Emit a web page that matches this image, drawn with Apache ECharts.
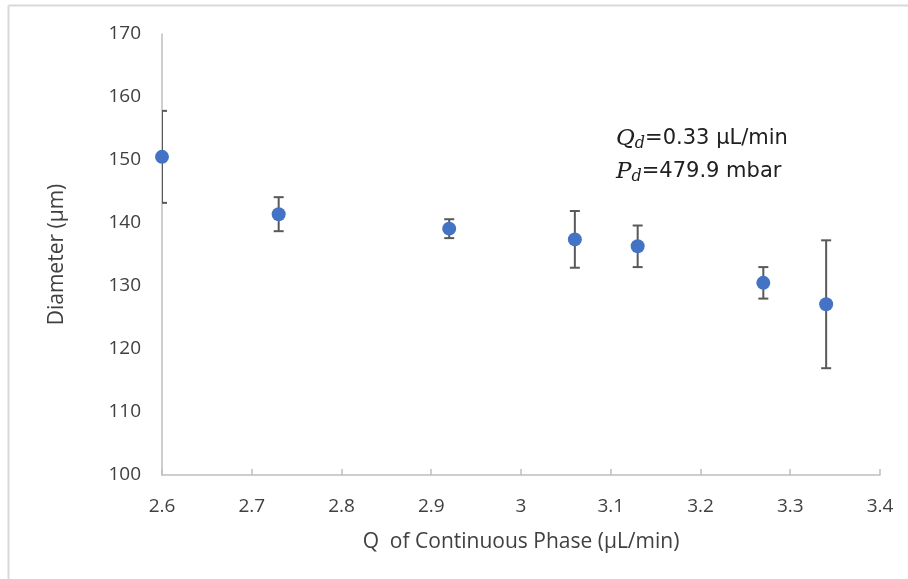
<!DOCTYPE html>
<html><head><meta charset="utf-8">
<script src="https://cdn.jsdelivr.net/npm/echarts@6/dist/echarts.min.js"></script>
<style>html,body{margin:0;padding:0;background:#fff}#c{width:908px;height:579px}</style>
</head><body><div id="c"></div>
<script>
var xValues = [2.6, 2.73, 2.92, 3.06, 3.13, 3.27, 3.34];
var diameters = [150.5, 141.4, 139.1, 137.4, 136.3, 130.5, 127.1];
var errors = [7.3, 2.7, 1.5, 4.5, 3.3, 2.5, 10.15];
var xTicks = [2.6, 2.7, 2.8, 2.9, 3, 3.1, 3.2, 3.3, 3.4];
var yTicks = [100, 110, 120, 130, 140, 150, 160, 170];

var FONT = '"Open Sans", "Liberation Sans", sans-serif';
var chart = echarts.init(document.getElementById('c'));
var errData = xValues.map(function(x, i){ return [x, diameters[i] - errors[i], diameters[i] + errors[i]]; });
var pts = xValues.map(function(x, i){ return [x, diameters[i]]; });

chart.setOption({
  animation: false,
  grid: { left: 162, right: 28, top: 34, bottom: 104, containLabel: false },
  xAxis: {
    type: 'value', min: xTicks[0], max: xTicks[xTicks.length-1], interval: 0.1,
    axisLine: { show: true, lineStyle: { color: '#bfbfbf', width: 1.5 } },
    axisTick: { show: true, inside: true, length: 6, lineStyle: { color: '#bfbfbf', width: 1.5 } },
    splitLine: { show: false },
    axisLabel: { color: '#404040', fontSize: 19, fontFamily: FONT, margin: 22,
      formatter: function(v){ return String(Math.round(v*10)/10); } },
    name: 'Q  of Continuous Phase (µL/min)', nameLocation: 'middle', nameGap: 57,
    nameTextStyle: { color: '#404040', fontSize: 21, fontFamily: FONT }
  },
  yAxis: {
    type: 'value', min: yTicks[0], max: yTicks[yTicks.length-1], interval: 10,
    axisLine: { show: true, lineStyle: { color: '#bfbfbf', width: 1.5 } },
    axisTick: { show: false },
    splitLine: { show: false },
    axisLabel: { color: '#404040', fontSize: 19, fontFamily: FONT, margin: 21 },
    name: 'Diameter (µm)', nameLocation: 'middle', nameGap: 94,
    nameTextStyle: { color: '#404040', fontSize: 21, fontFamily: FONT }
  },
  graphic: [
    { type: 'line', shape: { x1: 8.5, y1: 5.5, x2: 908, y2: 5.5 }, style: { stroke: '#d9d9d9', lineWidth: 2 } },
    { type: 'line', shape: { x1: 8.5, y1: 5.5, x2: 8.5, y2: 579 }, style: { stroke: '#d9d9d9', lineWidth: 2 } },
    { type: 'text', left: 616, top: 126, style: {
        rich: {
          v: { fontFamily: '"DejaVu Serif", serif', fontStyle: 'italic', fontSize: 23, fill: '#202020', lineHeight: 33 },
          s: { fontFamily: '"DejaVu Serif", serif', fontStyle: 'italic', fontSize: 16, fill: '#202020', padding: [10, 0, 0, 0], lineHeight: 33 },
          t: { fontFamily: '"DejaVu Sans", sans-serif', fontSize: 21, fill: '#202020', lineHeight: 33 }
        },
        text: '{v|Q}{s|d}{t|=0.33 µL/min}\n{v|P}{s|d}{t|=479.9 mbar}'
      } }
  ],
  series: [
    {
      type: 'custom', clip: true, z: 1,
      renderItem: function(params, api){
        var x = api.value(0);
        var lo = api.coord([x, api.value(1)]);
        var hi = api.coord([x, api.value(2)]);
        var w = 5;
        var st = { stroke: '#595959', lineWidth: 2 };
        return { type: 'group', children: [
          { type: 'line', shape: { x1: lo[0], y1: lo[1], x2: hi[0], y2: hi[1] }, style: st },
          { type: 'line', shape: { x1: hi[0]-w, y1: hi[1], x2: hi[0]+w, y2: hi[1] }, style: st },
          { type: 'line', shape: { x1: lo[0]-w, y1: lo[1], x2: lo[0]+w, y2: lo[1] }, style: st }
        ]};
      },
      encode: { x: 0, y: [1, 2] },
      data: errData
    },
    {
      type: 'scatter', z: 3, symbol: 'circle', symbolSize: 14,
      itemStyle: { color: '#4472C4', opacity: 1 },
      data: pts
    }
  ]
});
</script></body></html>
